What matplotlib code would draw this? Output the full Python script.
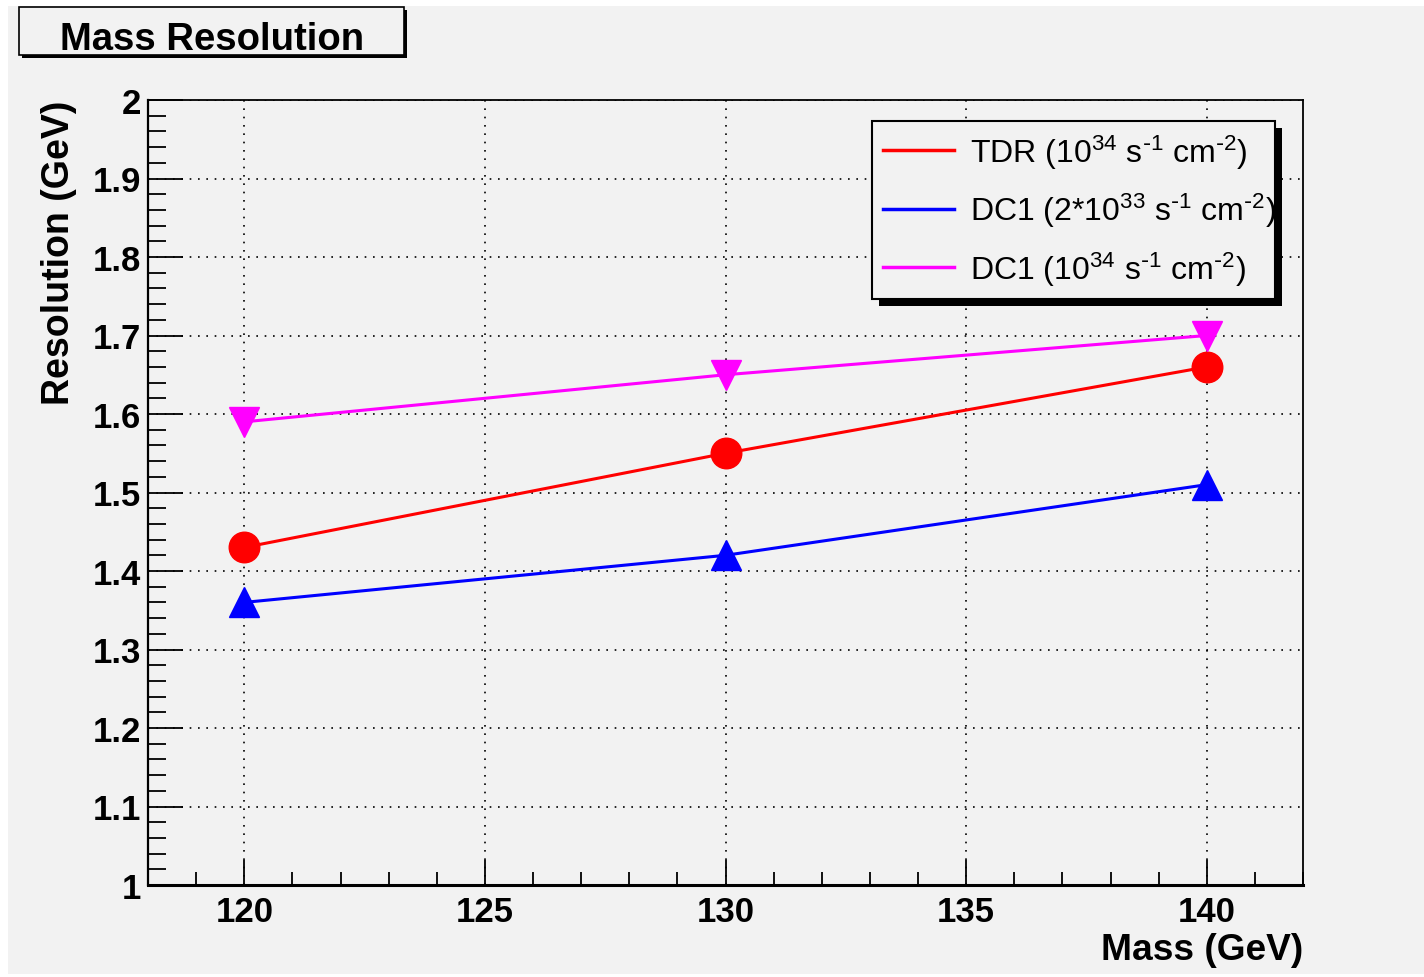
import matplotlib
matplotlib.use('Agg')
import matplotlib.pyplot as plt
from matplotlib.lines import Line2D
from matplotlib.patches import Rectangle
from matplotlib.ticker import MultipleLocator, FuncFormatter

plt.rcParams['font.family'] = ['Liberation Sans', 'DejaVu Sans']
plt.rcParams['mathtext.default'] = 'regular'

# data
mass = [120, 130, 140]
res_tdr = [1.43, 1.55, 1.66]
res_dc1_2e33 = [1.36, 1.42, 1.51]
res_dc1_1e34 = [1.59, 1.65, 1.70]
series = [res_tdr, res_dc1_2e33, res_dc1_1e34]
labels = [r'TDR (10$^{34}$ s$^{\text{-}1}$ cm$^{\text{-}2}$)',
          r'DC1 (2*10$^{33}$ s$^{\text{-}1}$ cm$^{\text{-}2}$)',
          r'DC1 (10$^{34}$ s$^{\text{-}1}$ cm$^{\text{-}2}$)']
colors = ['#ff0000', '#0000ff', '#ff00ff']
markers = ['o', '^', 'v']
msizes = [22, 21, 21]

W, H = 1424, 978
BG = '#f2f2f2'
fig = plt.figure(figsize=(W / 100, H / 100), dpi=100, facecolor='white')
fig.add_artist(Rectangle((8 / W, 3 / H), 1 - 8 / W, 1 - 10 / H, transform=fig.transFigure,
                         facecolor=BG, edgecolor='none', zorder=-10))

ax = fig.add_axes([148 / W, 1 - 886 / H, 1155 / W, 785 / H])
ax.set_facecolor(BG)

for vals, c, m, ms in zip(series, colors, markers, msizes):
    ax.plot(mass, vals, color=c, lw=2.2, marker=m, markersize=ms, zorder=3, clip_on=False)

ax.set_xlim(118, 142)
ax.set_ylim(1, 2)
ax.xaxis.set_major_locator(MultipleLocator(5))
ax.xaxis.set_minor_locator(MultipleLocator(1))
ax.yaxis.set_major_locator(MultipleLocator(0.1))
ax.yaxis.set_minor_locator(MultipleLocator(0.02))
ax.yaxis.set_major_formatter(FuncFormatter(lambda v, p: f'{v:g}'))
ax.xaxis.set_major_formatter(FuncFormatter(lambda v, p: f'{v:g}'))

ax.tick_params(axis='x', which='major', direction='in', length=18, width=1.3, labelsize=25, pad=7)
ax.tick_params(axis='x', which='minor', direction='in', length=9.5, width=1.3)
ax.tick_params(axis='y', which='major', direction='in', length=25, width=1.3, labelsize=25, pad=5)
ax.tick_params(axis='y', which='minor', direction='in', length=13, width=1.3)
for lab in ax.get_xticklabels() + ax.get_yticklabels():
    lab.set_fontweight('bold')

ax.grid(True, which='major', color='black', linestyle=(0, (1, 4)), linewidth=1.2)
ax.set_axisbelow(True)

for side, lw in [('bottom', 2.2), ('left', 1.6), ('top', 1.3), ('right', 1.3)]:
    ax.spines[side].set_linewidth(lw)

ax.set_xlabel('Mass (GeV)', fontsize=26.7, fontweight='bold', loc='right', va='baseline')
ax.xaxis.set_label_coords(1.0, -(960 - 886) / 785)
ax.set_ylabel('Resolution (GeV)', fontsize=27, fontweight='bold', loc='top', va='baseline')
ax.yaxis.set_label_coords((69 - 148) / 1155, 1.0)

handles = [Line2D([], [], color=c, lw=2.5) for c in colors]
leg = ax.legend(handles, labels, loc='upper left', mode='expand',
                bbox_to_anchor=(0.627, 0.749, 0.349, 0.224),
                borderaxespad=0, fontsize=23, frameon=True, fancybox=False,
                edgecolor='black', facecolor=BG, framealpha=1, handlelength=2.2,
                handletextpad=0.5, borderpad=0.35, labelspacing=0.63)
leg.get_frame().set_linewidth(1.5)

# black drop shadow behind the legend box
fig.canvas.draw()
bb = leg.get_window_extent()
inv = ax.transAxes.inverted()
x0, y0 = inv.transform((bb.x0 + 7, bb.y0 - 7))
x1, y1 = inv.transform((bb.x1 + 7, bb.y1 - 7))
ax.add_patch(Rectangle((x0, y0), x1 - x0, y1 - y0, transform=ax.transAxes,
                       facecolor='black', edgecolor='none', zorder=4.9, clip_on=False))

# title box
fig.add_artist(Rectangle((22 / W, 1 - 59 / H), 385 / W, 48 / H, transform=fig.transFigure,
                         facecolor='black', edgecolor='none'))
fig.add_artist(Rectangle((19 / W, 1 - 56 / H), 385 / W, 48 / H, transform=fig.transFigure,
                         facecolor=BG, edgecolor='black', linewidth=1.2))
fig.text(212 / W, 1 - 50 / H, 'Mass Resolution', ha='center', va='baseline',
         fontsize=27.5, fontweight='bold')

fig.savefig('out.png', dpi=100, facecolor=fig.get_facecolor())
